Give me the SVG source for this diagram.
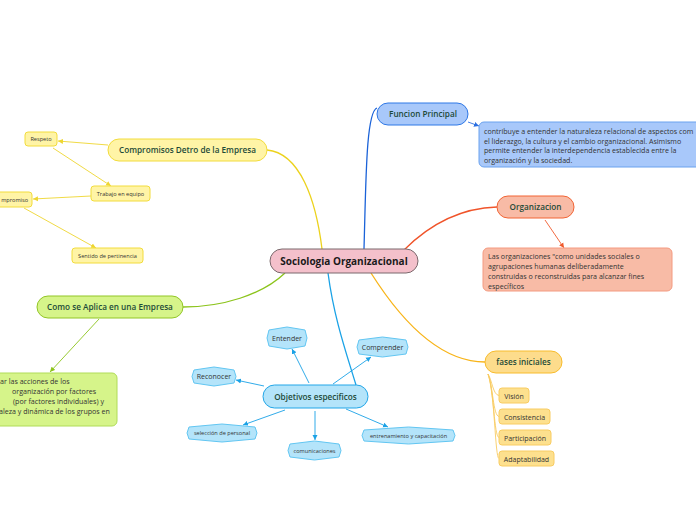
<svg xmlns="http://www.w3.org/2000/svg" width="696" height="520" viewBox="0 0 696 520">
<defs>
<style>
text{font-family:"Open Sans","Noto Sans","Liberation Sans",sans-serif;}
.main{font-size:8.2px;font-weight:600;fill:#1d4a38;text-anchor:middle;}
.center{font-size:10px;font-weight:700;fill:#1a1a1a;text-anchor:middle;}
.small{font-size:5.6px;fill:#333;text-anchor:middle;}
.sub{font-size:7px;fill:#333;text-anchor:middle;}
.body{font-size:7.1px;fill:#333;}
.yl{fill:#fff4a6;stroke:#f2dc3c;stroke-width:1;}
.bl{fill:#a8c8fa;stroke:#2f78e6;stroke-width:1;}
.blt{fill:#a8c8fa;stroke:#6aa2ee;stroke-width:1;}
.or{fill:#f8bba6;stroke:#f26434;stroke-width:1;}
.ort{fill:#f8bba6;stroke:#f49a80;stroke-width:1;}
.lm{fill:#d6f48a;stroke:#92c626;stroke-width:1;}
.lmt{fill:#d6f48a;stroke:#b0dc58;stroke-width:1;}
.cy{fill:#b4e4fa;stroke:#22a6e8;stroke-width:1;}
.cyt{fill:#b4e4fa;stroke:#62c6f2;stroke-width:1;stroke-linejoin:round;}
.gd{fill:#fddc8c;stroke:#f8bc2c;stroke-width:1;}
.gdt{fill:#fde08e;stroke:#f8cc62;stroke-width:1;}
.ctr{fill:#f4c0cb;stroke:#7a686c;stroke-width:1;}
.c{fill:none;stroke-width:1.3;}
.a{fill:none;stroke-width:0.9;}
</style>
<marker id="mY" markerWidth="6" markerHeight="6" refX="5" refY="3" orient="auto" markerUnits="userSpaceOnUse"><path d="M0,0.5 L5,3 L0,5.5 Z" fill="#eed630"/></marker>
<marker id="mB" markerWidth="6" markerHeight="6" refX="5" refY="3" orient="auto" markerUnits="userSpaceOnUse"><path d="M0,0.5 L5,3 L0,5.5 Z" fill="#2a6ee0"/></marker>
<marker id="mO" markerWidth="6" markerHeight="6" refX="5" refY="3" orient="auto" markerUnits="userSpaceOnUse"><path d="M0,0.5 L5,3 L0,5.5 Z" fill="#f05a2c"/></marker>
<marker id="mL" markerWidth="6" markerHeight="6" refX="5" refY="3" orient="auto" markerUnits="userSpaceOnUse"><path d="M0,0.5 L5,3 L0,5.5 Z" fill="#8cc41c"/></marker>
<marker id="mC" markerWidth="6" markerHeight="6" refX="5" refY="3" orient="auto" markerUnits="userSpaceOnUse"><path d="M0,0.5 L5,3 L0,5.5 Z" fill="#1aa2e6"/></marker>
</defs>
<rect width="696" height="520" fill="#ffffff"/>

<g id="connectors">
<path class="c" d="M322,249 C316,200 300,153 267,150" stroke="#ecd21c"/>
<path class="c" d="M364,249 C366,180 366,112 377,108" stroke="#1a62d8"/>
<path class="c" d="M404,250 C430,224 462,208 497,207" stroke="#f0542a"/>
<path class="c" d="M285,273 C262,295 222,307 183,307" stroke="#8cc41c"/>
<path class="c" d="M328,273 C334,318 346,352 356,385" stroke="#1aa2e6"/>
<path class="c" d="M371,273 C402,322 440,362 485,362" stroke="#f8b418"/>
<path class="a" d="M108,145 L58,141" stroke="#eed630" marker-end="url(#mY)"/>
<path class="a" d="M53,148 L111,186" stroke="#eed630" marker-end="url(#mY)"/>
<path class="a" d="M91,196 L33,199" stroke="#eed630" marker-end="url(#mY)"/>
<path class="a" d="M24,208 L96,248" stroke="#eed630" marker-end="url(#mY)"/>
<path class="a" d="M99,319 L50,372" stroke="#8cc41c" marker-end="url(#mL)"/>
<path class="a" d="M468,122 L479,126" stroke="#2a6ee0" marker-end="url(#mB)"/>
<path class="a" d="M545,220 L564,248" stroke="#f05a2c" marker-end="url(#mO)"/>
<path class="a" d="M309,383 L292,349" stroke="#1aa2e6" marker-end="url(#mC)"/>
<path class="a" d="M333,384 L371,357" stroke="#1aa2e6" marker-end="url(#mC)"/>
<path class="a" d="M264,386 L236,380" stroke="#1aa2e6" marker-end="url(#mC)"/>
<path class="a" d="M285,410 L243,425" stroke="#1aa2e6" marker-end="url(#mC)"/>
<path class="a" d="M315,411 L315,440" stroke="#1aa2e6" marker-end="url(#mC)"/>
<path class="a" d="M346,409 L388,427" stroke="#1aa2e6" marker-end="url(#mC)"/>
<g fill="none" stroke="#f8cc62" stroke-width="0.9">
<path d="M488,374 C492,380 493,395 499,395.5"/>
<path d="M488,374 C493,385 493,416 499,416.5"/>
<path d="M488,374 C494,390 494,437 499,437.5"/>
<path d="M488,374 C495,395 495,458 499,458.5"/>
</g>
</g>

<g id="center">
<rect class="ctr" x="270" y="249" width="148" height="24" rx="12"/>
<text class="center" x="344" y="264.5">Sociologia Organizacional</text>
</g>

<g id="compromisos">
<rect class="yl" x="108" y="139" width="159" height="22" rx="11"/>
<text class="main" x="187.5" y="153">Compromisos Detro de la Empresa</text>
</g>
<g id="respeto">
<rect class="yl" x="25" y="132" width="32" height="14" rx="3"/>
<text class="small" x="41" y="141">Respeto</text>
</g>
<g id="trabajo">
<rect class="yl" x="91" y="186" width="59" height="15" rx="3"/>
<text class="small" x="120.5" y="195.5">Trabajo en equipo</text>
</g>
<g id="compromiso">
<rect class="yl" x="-16" y="192" width="48" height="15" rx="3"/>
<text class="small" x="28" y="201.5" style="text-anchor:end">mpromiso</text>
</g>
<g id="sentido">
<rect class="yl" x="72" y="248" width="71" height="15" rx="3"/>
<text class="small" x="107.5" y="257.5">Sentido de pertinencia</text>
</g>

<g id="aplica">
<rect class="lm" x="37" y="296" width="146" height="22" rx="11"/>
<text class="main" x="110" y="310">Como se Aplica en una Empresa</text>
</g>
<g id="aplica-text">
<rect class="lmt" x="-10" y="373" width="127" height="53" rx="5"/>
<text class="body" x="0" y="384">ar las acciones de los</text>
<text class="body" x="12" y="394">organización por factores</text>
<text class="body" x="13" y="404">(por factores individuales) y</text>
<text class="body" x="-1" y="414">aleza y dinámica de los grupos en</text>
</g>

<g id="funcion">
<rect class="bl" x="377" y="103" width="91" height="22" rx="11"/>
<text class="main" x="423" y="117">Funcion Principal</text>
</g>
<g id="funcion-text">
<rect class="blt" x="479" y="122" width="230" height="45" rx="5"/>
<text class="body" x="484" y="134">contribuye a entender la naturaleza relacional de aspectos com</text>
<text class="body" x="484" y="143.5">el liderazgo, la cultura y el cambio organizacional. Asimismo</text>
<text class="body" x="484" y="153">permite entender la interdependencia establecida entre la</text>
<text class="body" x="484" y="162.5">organización y la sociedad.</text>
</g>

<g id="organizacion">
<rect class="or" x="497" y="196" width="77" height="22" rx="11"/>
<text class="main" x="535.5" y="210">Organizacion</text>
</g>
<g id="organizacion-text">
<rect class="ort" x="483" y="248" width="189" height="43" rx="5"/>
<text class="body" x="488" y="259">Las organizaciones "como unidades sociales o</text>
<text class="body" x="488" y="269">agrupaciones humanas deliberadamente</text>
<text class="body" x="488" y="279">construidas o reconstruidas para alcanzar fines</text>
<text class="body" x="488" y="288.5">específicos</text>
</g>

<g id="fases">
<rect class="gd" x="485" y="351" width="77" height="22" rx="11"/>
<text class="main" x="523.5" y="365">fases iniciales</text>
</g>
<g id="vision"><rect class="gdt" x="499" y="388" width="30" height="15" rx="3"/><text class="sub" x="514" y="398.5">Visión</text></g>
<g id="consistencia"><rect class="gdt" x="499" y="409" width="51" height="15" rx="3"/><text class="sub" x="524.5" y="419.5">Consistencia</text></g>
<g id="participacion"><rect class="gdt" x="499" y="430" width="52" height="15" rx="3"/><text class="sub" x="525" y="440.5">Participación</text></g>
<g id="adaptabilidad"><rect class="gdt" x="499" y="451" width="55" height="15" rx="3"/><text class="sub" x="526.5" y="461.5">Adaptabilidad</text></g>

<g id="objetivos">
<rect class="cy" x="263" y="385" width="105" height="23" rx="11.5"/>
<text class="main" x="315.5" y="399.5">Objetivos especificos</text>
</g>
<g id="entender">
<polygon class="cyt" points="269,330 287,327 305,330 307,338 305,346 287,349 269,346 267,338"/>
<text class="sub" x="287" y="340.5">Entender</text>
</g>
<g id="comprender">
<polygon class="cyt" points="359,340 382.5,337 406,340 408,347 406,354 382.5,357 359,354 357,347"/>
<text class="sub" x="382.5" y="349.5">Comprender</text>
</g>
<g id="reconocer">
<polygon class="cyt" points="194,370 214,367 234,370 236,376.5 234,383 214,386 194,383 192,376.5"/>
<text class="sub" x="214" y="379">Reconocer</text>
</g>
<g id="seleccion">
<polygon class="cyt" points="189,427 222,424 255,427 257,433 255,439 222,442 189,439 187,433"/>
<text class="small" x="222" y="435">selección de personal</text>
</g>
<g id="comunicaciones">
<polygon class="cyt" points="290,444 314.5,441 339,444 341,450.5 339,457 314.5,460 290,457 288,450.5"/>
<text class="small" x="314.5" y="452.5">comunicaciones</text>
</g>
<g id="entrenamiento">
<polygon class="cyt" points="364,430 408.5,427 453,430 455,435.5 453,441 408.5,444 364,441 362,435.5"/>
<text class="small" x="408.5" y="437.5">entrenamiento y capacitación</text>
</g>
</svg>
